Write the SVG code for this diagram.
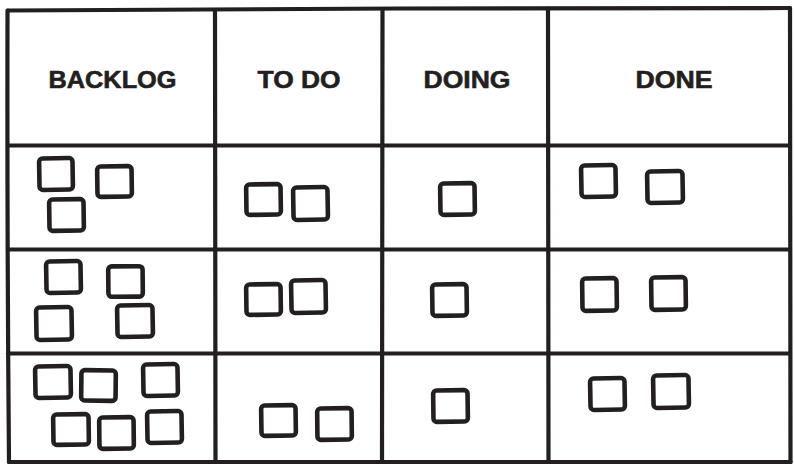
<svg xmlns="http://www.w3.org/2000/svg" width="794" height="464" viewBox="0 0 794 464">
<style>
.ln{fill:none;stroke:#231f20;stroke-width:4.2;stroke-linecap:round;stroke-linejoin:round}
.card{fill:none;stroke:#231f20;stroke-width:4.6}
.hd{font-family:"Liberation Sans",Arial,sans-serif;font-weight:700;font-size:24.5px;fill:#231f20;stroke:#231f20;stroke-width:0.6;text-anchor:middle}
</style>
<rect width="794" height="464" fill="#ffffff"/>
<g id="grid">
<path class="ln" d="M8 10.5 Q200 9 400 8.5 T790 8"/>
<path class="ln" d="M7.5 10.5 Q7 240 9 462"/>
<path class="ln" d="M790 8 Q791 240 790.5 462"/>
<path class="ln" d="M9 462 Q400 461 790.5 462"/>
<path class="ln" d="M215 10 L215.5 462"/>
<path class="ln" d="M382.5 9 L382 462"/>
<path class="ln" d="M548 8.5 L548.5 462"/>
<path class="ln" d="M8 145.5 Q400 145 790 145.5"/>
<path class="ln" d="M8 249.5 Q400 249 790 249.5"/>
<path class="ln" d="M8 353.5 Q400 353 790 353.5"/>
</g>
<g id="headers">
<text class="hd" x="112.5" y="88" textLength="128" lengthAdjust="spacingAndGlyphs">BACKLOG</text>
<text class="hd" x="299" y="88" textLength="83" lengthAdjust="spacingAndGlyphs">TO DO</text>
<text class="hd" x="467" y="88" textLength="87" lengthAdjust="spacingAndGlyphs">DOING</text>
<text class="hd" x="674" y="88" textLength="77" lengthAdjust="spacingAndGlyphs">DONE</text>
</g>
<g id="backlog-r1">
<rect class="card" x="39.3" y="158.3" width="33.4" height="31.4" rx="3.5" transform="rotate(-1 56 174)"/>
<rect class="card" x="97.3" y="166.3" width="34.4" height="30.4" rx="3.5" transform="rotate(-0.8 114 181)"/>
<rect class="card" x="49.3" y="199.3" width="34.4" height="31.4" rx="3.5" transform="rotate(-0.8 66 215)"/>
</g>
<g id="todo-r1">
<rect class="card" x="246.3" y="184.3" width="34.4" height="30.4" rx="3.5" transform="rotate(-0.8 263 199)"/>
<rect class="card" x="293.3" y="187.3" width="34.4" height="32.4" rx="3.5" transform="rotate(-1 310 203)"/>
</g>
<g id="doing-r1">
<rect class="card" x="440.3" y="183.3" width="34.4" height="31.4" rx="3.5" transform="rotate(-0.8 457 199)"/>
</g>
<g id="done-r1">
<rect class="card" x="581.3" y="165.3" width="34.4" height="31.4" rx="3.5" transform="rotate(-1 598 181)"/>
<rect class="card" x="647.3" y="171.3" width="35.4" height="31.4" rx="3.5" transform="rotate(-1 665 187)"/>
</g>
<g id="backlog-r2">
<rect class="card" x="46.3" y="261.3" width="34.4" height="31.4" rx="3.5" transform="rotate(-1 63 277)"/>
<rect class="card" x="108.3" y="266.3" width="34.4" height="30.4" rx="3.5" transform="rotate(-0.5 125 281)"/>
<rect class="card" x="36.3" y="307.3" width="35.4" height="32.4" rx="3.5" transform="rotate(-1 54 323)"/>
<rect class="card" x="117.3" y="305.3" width="35.4" height="31.4" rx="3.5" transform="rotate(-1 135 321)"/>
</g>
<g id="todo-r2">
<rect class="card" x="246.3" y="284.3" width="34.4" height="30.4" rx="3.5" transform="rotate(-0.8 263 299)"/>
<rect class="card" x="291.3" y="280.3" width="34.4" height="32.4" rx="3.5" transform="rotate(-1 308 296)"/>
</g>
<g id="doing-r2">
<rect class="card" x="432.3" y="284.3" width="34.4" height="31.4" rx="3.5" transform="rotate(-0.8 449 300)"/>
</g>
<g id="done-r2">
<rect class="card" x="582.3" y="278.3" width="34.4" height="32.4" rx="3.5" transform="rotate(-0.8 599 294)"/>
<rect class="card" x="651.3" y="277.3" width="34.4" height="32.4" rx="3.5" transform="rotate(-0.8 668 293)"/>
</g>
<g id="backlog-r3">
<rect class="card" x="35.3" y="366.3" width="35.4" height="31.4" rx="3.5" transform="rotate(-1 53 382)"/>
<rect class="card" x="81.3" y="370.3" width="34.4" height="30.4" rx="3.5" transform="rotate(0.6 98 385)"/>
<rect class="card" x="143.3" y="364.3" width="34.4" height="31.4" rx="3.5" transform="rotate(-1 160 380)"/>
<rect class="card" x="53.3" y="414.3" width="35.4" height="30.4" rx="3.5" transform="rotate(-0.8 71 429)"/>
<rect class="card" x="99.3" y="417.3" width="34.4" height="31.4" rx="3.5" transform="rotate(-0.6 116 433)"/>
<rect class="card" x="147.3" y="411.3" width="34.4" height="31.4" rx="3.5" transform="rotate(-1 164 427)"/>
</g>
<g id="todo-r3">
<rect class="card" x="261.3" y="405.3" width="34.4" height="30.4" rx="3.5" transform="rotate(-0.8 278 420)"/>
<rect class="card" x="317.3" y="408.3" width="34.4" height="31.4" rx="3.5" transform="rotate(-0.6 334 424)"/>
</g>
<g id="doing-r3">
<rect class="card" x="433.3" y="390.3" width="34.4" height="31.4" rx="3.5" transform="rotate(-0.8 450 406)"/>
</g>
<g id="done-r3">
<rect class="card" x="590.3" y="378.3" width="34.4" height="31.4" rx="3.5" transform="rotate(-1 607 394)"/>
<rect class="card" x="653.3" y="375.3" width="35.4" height="32.4" rx="3.5" transform="rotate(-1 671 391)"/>
</g>
</svg>
